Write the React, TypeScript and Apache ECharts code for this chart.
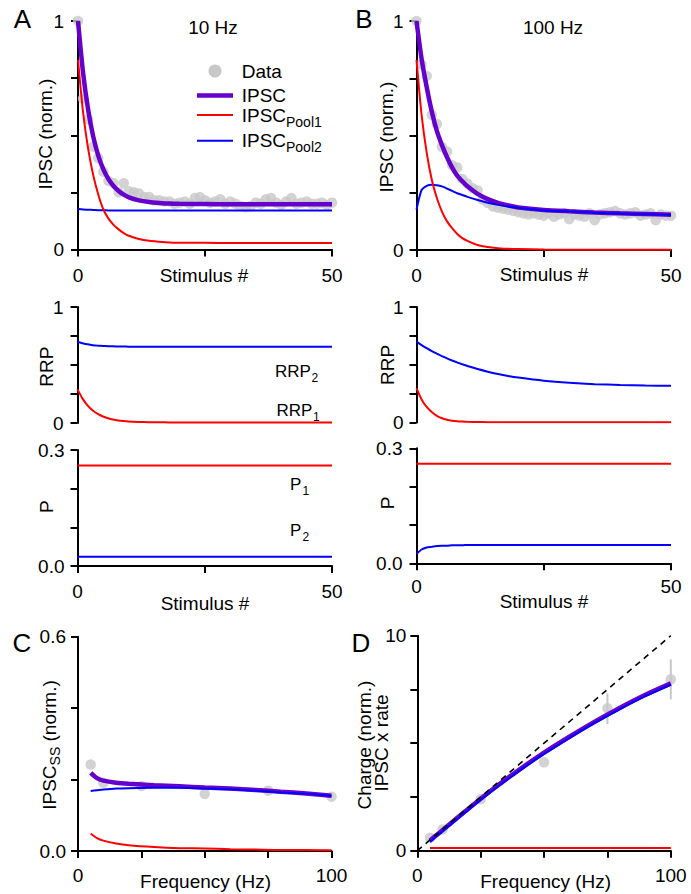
import React, { useEffect, useRef } from "react";
import * as echarts from "echarts";

const FONT = '"Liberation Sans", Arial, sans-serif';
const PURPLE = "#6600cc";
const RED = "#ff0000";
const BLUE = "#0000ff";
const GRAY = "#c8c8c8";

// ---- Panel A / B: stimulus trains ----
const STIM_DATA = [
  0, 1, 2, 3, 4, 5, 6, 7, 8, 9, 10, 11, 12, 13, 14, 15, 16, 17, 18, 19, 20, 21, 22, 23, 24, 25,
  26, 27, 28, 29, 30, 31, 32, 33, 34, 35, 36, 37, 38, 39, 40, 41, 42, 43, 44, 45, 46, 47, 48, 49, 50,
];
const A_DATA = [
  1.0, 0.66, 0.57, 0.45, 0.4, 0.34, 0.3, 0.29, 0.25, 0.29, 0.255, 0.25, 0.245, 0.23, 0.23, 0.215,
  0.215, 0.21, 0.21, 0.2, 0.205, 0.21, 0.2, 0.225, 0.23, 0.215, 0.205, 0.21, 0.22, 0.2, 0.21, 0.2,
  0.19, 0.185, 0.19, 0.205, 0.2, 0.22, 0.225, 0.205, 0.195, 0.21, 0.225, 0.2, 0.205, 0.21, 0.2, 0.2,
  0.205, 0.195, 0.205,
];
const B_DATA = [
  1.0, 0.81, 0.76, 0.59, 0.55, 0.45, 0.43, 0.37, 0.36, 0.31, 0.29, 0.27, 0.26, 0.22, 0.205, 0.19,
  0.185, 0.18, 0.176, 0.17, 0.165, 0.16, 0.155, 0.16, 0.154, 0.15, 0.16, 0.145, 0.155, 0.16, 0.135,
  0.155, 0.15, 0.145, 0.16, 0.13, 0.155, 0.16, 0.165, 0.17, 0.16, 0.155, 0.16, 0.165, 0.15, 0.155,
  0.16, 0.13, 0.155, 0.15, 0.15,
];

const STIM_MODEL = [0, 1, 2, 3, 4, 5, 6, 7, 8, 9, 10, 12, 14, 16, 18, 20, 25, 30, 35, 40, 45, 50];
const A_IPSC = [1.0, 0.773, 0.611, 0.494, 0.41, 0.351, 0.308, 0.278, 0.256, 0.24, 0.228, 0.215, 0.208, 0.204, 0.201, 0.2, 0.199, 0.198, 0.198, 0.198, 0.198, 0.198];
const A_POOL1 = [0.83, 0.6, 0.44, 0.325, 0.24, 0.175, 0.135, 0.108, 0.088, 0.072, 0.06, 0.046, 0.038, 0.034, 0.031, 0.03, 0.029, 0.028, 0.028, 0.028, 0.028, 0.028];
const A_POOL2 = [0.177, 0.175, 0.174, 0.173, 0.172, 0.172, 0.171, 0.171, 0.171, 0.171, 0.171, 0.171, 0.171, 0.171, 0.171, 0.171, 0.171, 0.171, 0.171, 0.171, 0.171, 0.171];
const B_IPSC = [1.0, 0.835, 0.712, 0.605, 0.52, 0.458, 0.405, 0.36, 0.325, 0.3, 0.278, 0.245, 0.222, 0.206, 0.195, 0.186, 0.175, 0.169, 0.164, 0.16, 0.157, 0.154];
const B_POOL1 = [0.83, 0.59, 0.425, 0.307, 0.227, 0.168, 0.125, 0.095, 0.07, 0.052, 0.04, 0.022, 0.013, 0.008, 0.005, 0.004, 0.002, 0.001, 0.001, 0.001, 0.001, 0.001];
const B_POOL2 = [0.176, 0.262, 0.28, 0.285, 0.283, 0.278, 0.268, 0.258, 0.248, 0.24, 0.232, 0.218, 0.206, 0.197, 0.19, 0.184, 0.173, 0.168, 0.163, 0.159, 0.156, 0.153];

const A_RRP2 = [0.7, 0.688, 0.678, 0.671, 0.667, 0.664, 0.662, 0.661, 0.66, 0.659, 0.658, 0.657, 0.657, 0.657, 0.657, 0.657, 0.657, 0.657, 0.657, 0.657, 0.657, 0.657];
const A_RRP1 = [0.29, 0.21, 0.15, 0.108, 0.078, 0.056, 0.041, 0.03, 0.022, 0.017, 0.013, 0.009, 0.007, 0.006, 0.005, 0.005, 0.005, 0.005, 0.005, 0.005, 0.005, 0.005];
const B_RRP2 = [0.7, 0.67, 0.643, 0.618, 0.596, 0.575, 0.555, 0.537, 0.52, 0.504, 0.489, 0.463, 0.44, 0.42, 0.403, 0.389, 0.362, 0.344, 0.332, 0.325, 0.32, 0.318];
const B_RRP1 = [0.298, 0.2, 0.135, 0.09, 0.058, 0.037, 0.024, 0.016, 0.011, 0.008, 0.006, 0.004, 0.003, 0.003, 0.003, 0.003, 0.003, 0.003, 0.003, 0.003, 0.003, 0.003];

const A_P1 = [0.26, 0.26, 0.26, 0.26, 0.26, 0.26, 0.26, 0.26, 0.26, 0.26, 0.26, 0.26, 0.26, 0.26, 0.26, 0.26, 0.26, 0.26, 0.26, 0.26, 0.26, 0.26];
const A_P2 = [0.024, 0.024, 0.024, 0.024, 0.024, 0.024, 0.024, 0.024, 0.024, 0.024, 0.024, 0.024, 0.024, 0.024, 0.024, 0.024, 0.024, 0.024, 0.024, 0.024, 0.024, 0.024];
const B_P1 = [0.26, 0.26, 0.26, 0.26, 0.26, 0.26, 0.26, 0.26, 0.26, 0.26, 0.26, 0.26, 0.26, 0.26, 0.26, 0.26, 0.26, 0.26, 0.26, 0.26, 0.26, 0.26];
const B_P2 = [0.024, 0.036, 0.041, 0.043, 0.045, 0.046, 0.046, 0.047, 0.047, 0.047, 0.048, 0.048, 0.048, 0.048, 0.048, 0.048, 0.048, 0.048, 0.048, 0.048, 0.048, 0.048];

// ---- Panel C / D: frequency dependence ----
const FREQ_DATA = [5, 10, 25, 50, 75, 100];
const C_DATA = [0.242, 0.191, 0.182, 0.16, 0.169, 0.152];
const D_DATA = [0.6, 0.99, 2.39, 4.11, 6.62, 7.97];
const ERR_FREQ = [75, 100];
const ERR_LOW = [5.89, 7.04];
const ERR_HIGH = [7.32, 8.9];

const FREQ_MODEL = [5, 7.5, 10, 15, 20, 30, 40, 50, 60, 70, 80, 90, 100];
const C_IPSC = [0.219, 0.204, 0.197, 0.191, 0.188, 0.184, 0.181, 0.178, 0.175, 0.171, 0.166, 0.161, 0.155];
const C_POOL2 = [0.168, 0.17, 0.172, 0.175, 0.176, 0.177, 0.177, 0.175, 0.173, 0.169, 0.164, 0.16, 0.154];
const C_POOL1 = [0.049, 0.036, 0.029, 0.021, 0.016, 0.011, 0.008, 0.007, 0.005, 0.004, 0.003, 0.003, 0.002];
const D_IPSC = [0.47, 0.72, 0.96, 1.45, 1.94, 2.88, 3.75, 4.56, 5.3, 6.0, 6.65, 7.25, 7.78];
const D_POOL2 = [0.41, 0.66, 0.9, 1.39, 1.88, 2.82, 3.69, 4.5, 5.24, 5.94, 6.59, 7.19, 7.72];
const D_POOL1 = [0.12, 0.12, 0.12, 0.12, 0.12, 0.12, 0.12, 0.12, 0.12, 0.12, 0.12, 0.12, 0.12];
const UNITY_X = [0, 100];
const UNITY_Y = [0, 10];

const zip = (xs: number[], ys: number[]) => xs.map((x, i) => [x, ys[i]]);

const txt = (x: number, y: number, text: string, size = 19, align = "center", extra: any = {}) => ({
  type: "text",
  x,
  y,
  z: 100,
  style: {
    text,
    fontSize: size,
    fontFamily: FONT,
    fill: "#000",
    textAlign: align,
    textVerticalAlign: "middle",
  },
  ...extra,
});

const axisCommon = {
  axisLine: { show: true, onZero: false, lineStyle: { color: "#000", width: 2 } },
  axisTick: { show: true, length: 7, inside: false, lineStyle: { color: "#000", width: 2 } },
  splitLine: { show: false },
};

const mkX = (grid: number, max: number, interval: number, show = true, margin = 16) => ({
  type: "value",
  gridIndex: grid,
  min: 0,
  max,
  interval,
  show,
  ...axisCommon,
  axisLabel: {
    show: true,
    margin,
    fontSize: 19,
    fontFamily: FONT,
    color: "#000",
    showMinLabel: true,
    showMaxLabel: true,
    formatter: (v: number) => (v === 0 || v === max ? String(v) : ""),
  },
});

const mkY = (grid: number, max: number, interval: number, digits: number, margin = 13) => ({
  type: "value",
  gridIndex: grid,
  min: 0,
  max,
  interval,
  ...axisCommon,
  axisLabel: {
    show: true,
    margin,
    fontSize: 19,
    fontFamily: FONT,
    color: "#000",
    showMinLabel: true,
    showMaxLabel: true,
    formatter: (v: number) =>
      Math.abs(v) < 1e-9 || Math.abs(v - max) < 1e-9 ? v.toFixed(digits) : "",
  },
});

const line = (g: number, xs: number[], ys: number[], color: string, width: number, z: number) => ({
  type: "line",
  xAxisIndex: g,
  yAxisIndex: g,
  data: zip(xs, ys),
  symbol: "none",
  smooth: 0.25,
  lineStyle: { color, width },
  z,
  silent: true,
});

const dots = (g: number, xs: number[], ys: number[]) => ({
  type: "scatter",
  xAxisIndex: g,
  yAxisIndex: g,
  data: zip(xs, ys),
  symbol: "circle",
  symbolSize: 10.5,
  itemStyle: { color: GRAY },
  z: 1,
  silent: true,
});

function buildOption(): any {
  const grids = [
    { left: 78, top: 21, width: 254, height: 228.5 }, // 0 A top
    { left: 416.5, top: 21, width: 254.5, height: 229 }, // 1 B top
    { left: 77.5, top: 307, width: 254.5, height: 116 }, // 2 A RRP
    { left: 77.5, top: 450, width: 254.5, height: 116 }, // 3 A P
    { left: 416.5, top: 307, width: 254.5, height: 115.5 }, // 4 B RRP
    { left: 416.5, top: 448.3, width: 254.5, height: 115 }, // 5 B P
    { left: 78, top: 636.7, width: 253.5, height: 214.3 }, // 6 C
    { left: 417.3, top: 635.7, width: 253.5, height: 215 }, // 7 D
  ];

  const xAxis = [
    mkX(0, 50, 25),
    mkX(1, 50, 25),
    mkX(2, 50, 25, false),
    mkX(3, 50, 25),
    mkX(4, 50, 25, false),
    mkX(5, 50, 25, true, 14),
    mkX(6, 100, 25, true, 15),
    mkX(7, 100, 25, true, 15),
  ];
  const yAxis = [
    mkY(0, 1, 0.25, 0, 14),
    mkY(1, 1, 0.25, 0, 13),
    mkY(2, 1, 0.25, 0, 14),
    mkY(3, 0.3, 0.1, 1, 13),
    mkY(4, 1, 0.25, 0, 13),
    mkY(5, 0.3, 0.1, 1, 14),
    mkY(6, 0.6, 0.2, 1, 12),
    mkY(7, 10, 2.5, 0, 11),
  ];

  const series: any[] = [
    dots(0, STIM_DATA, A_DATA),
    line(0, STIM_MODEL, A_IPSC, PURPLE, 4.5, 3),
    line(0, STIM_MODEL, A_POOL2, BLUE, 2, 4),
    line(0, STIM_MODEL, A_POOL1, RED, 2, 5),

    dots(1, STIM_DATA, B_DATA),
    line(1, STIM_MODEL, B_IPSC, PURPLE, 4.5, 3),
    line(1, STIM_MODEL, B_POOL2, BLUE, 2, 4),
    line(1, STIM_MODEL, B_POOL1, RED, 2, 5),

    line(2, STIM_MODEL, A_RRP2, BLUE, 2, 4),
    line(2, STIM_MODEL, A_RRP1, RED, 2, 5),
    line(3, STIM_MODEL, A_P1, RED, 2, 5),
    line(3, STIM_MODEL, A_P2, BLUE, 2, 4),

    line(4, STIM_MODEL, B_RRP2, BLUE, 2, 4),
    line(4, STIM_MODEL, B_RRP1, RED, 2, 5),
    line(5, STIM_MODEL, B_P1, RED, 2, 5),
    line(5, STIM_MODEL, B_P2, BLUE, 2, 4),

    dots(6, FREQ_DATA, C_DATA),
    line(6, FREQ_MODEL, C_IPSC, PURPLE, 4.5, 3),
    line(6, FREQ_MODEL, C_POOL2, BLUE, 2, 4),
    line(6, FREQ_MODEL, C_POOL1, RED, 2, 5),

    {
      type: "custom",
      xAxisIndex: 7,
      yAxisIndex: 7,
      z: 1,
      silent: true,
      data: ERR_FREQ.map((f, i) => [f, ERR_LOW[i], ERR_HIGH[i]]),
      renderItem: (_p: any, api: any) => {
        const a = api.coord([api.value(0), api.value(1)]);
        const b = api.coord([api.value(0), api.value(2)]);
        return {
          type: "line",
          shape: { x1: a[0], y1: a[1], x2: b[0], y2: b[1] },
          style: { stroke: GRAY, lineWidth: 2 },
        };
      },
    },
    dots(7, FREQ_DATA, D_DATA),
    {
      type: "line",
      xAxisIndex: 7,
      yAxisIndex: 7,
      data: zip(UNITY_X, UNITY_Y),
      symbol: "none",
      lineStyle: { color: "#000", width: 1.6, type: [6, 5] },
      z: 6,
      silent: true,
    },
    line(7, FREQ_MODEL, D_IPSC, PURPLE, 4.5, 3),
    line(7, FREQ_MODEL, D_POOL2, BLUE, 2, 4),
    line(7, FREQ_MODEL, D_POOL1, RED, 2, 5),
  ];

  const graphic: any[] = [
    // panel letters
    txt(22.5, 19, "A", 26),
    txt(364, 19, "B", 26),
    txt(22, 643, "C", 26),
    txt(361, 643, "D", 26),
    // titles
    txt(213, 27, "10 Hz"),
    txt(553, 27, "100 Hz"),
    // legend
    { type: "circle", shape: { cx: 215, cy: 71, r: 6.5 }, style: { fill: GRAY }, z: 100 },
    txt(241.7, 71, "Data", 19, "left"),
    { type: "line", shape: { x1: 197, y1: 95.5, x2: 233, y2: 95.5 }, style: { stroke: PURPLE, lineWidth: 4.5 }, z: 100 },
    txt(241.7, 95.5, "IPSC", 19, "left"),
    { type: "line", shape: { x1: 197, y1: 115, x2: 233, y2: 115 }, style: { stroke: RED, lineWidth: 2 }, z: 100 },
    txt(241.7, 115, "IPSC", 19, "left"),
    txt(286, 121.5, "Pool1", 14, "left"),
    { type: "line", shape: { x1: 197, y1: 140.7, x2: 233, y2: 140.7 }, style: { stroke: BLUE, lineWidth: 2 }, z: 100 },
    txt(241.7, 140.7, "IPSC", 19, "left"),
    txt(286, 147.2, "Pool2", 14, "left"),
    // axis names
    txt(45, 134, "IPSC (norm.)", 19, "center", { rotation: Math.PI / 2 }),
    txt(386.7, 137, "IPSC (norm.)", 19, "center", { rotation: Math.PI / 2 }),
    txt(204, 275, "Stimulus #"),
    txt(544, 274, "Stimulus #"),
    txt(46, 366.7, "RRP", 19, "center", { rotation: Math.PI / 2 }),
    txt(46, 506.7, "P", 19, "center", { rotation: Math.PI / 2 }),
    txt(387.5, 365, "RRP", 19, "center", { rotation: Math.PI / 2 }),
    txt(387.5, 503, "P", 19, "center", { rotation: Math.PI / 2 }),
    txt(205, 603, "Stimulus #"),
    txt(544, 601, "Stimulus #"),
    // inline labels
    txt(275, 371.5, "RRP", 17, "left"),
    txt(311.5, 378, "2", 12, "left"),
    txt(276.5, 410, "RRP", 17, "left"),
    txt(313, 416.5, "1", 12, "left"),
    txt(290, 484, "P", 17, "left"),
    txt(302.5, 490.5, "1", 12, "left"),
    txt(290, 530, "P", 17, "left"),
    txt(302.5, 537, "2", 12, "left"),
    // C y-axis name with subscript (rotated group)
    {
      type: "group",
      x: 49,
      y: 745,
      rotation: Math.PI / 2,
      children: [
        txt(-64.75, 0, "IPSC", 19, "left"),
        txt(-20.45, 6, "SS", 14, "left"),
        txt(-1.75, 0, " (norm.)", 19, "left"),
      ],
    },
    txt(205.5, 881, "Frequency (Hz)"),
    // D y-axis names
    txt(364, 745, "Charge (norm.)", 19, "center", { rotation: Math.PI / 2 }),
    txt(381.7, 743, "IPSC x rate", 19, "center", { rotation: Math.PI / 2 }),
    txt(545.7, 881, "Frequency (Hz)"),
  ];

  return {
    animation: false,
    backgroundColor: "#ffffff",
    textStyle: { fontFamily: FONT },
    grid: grids,
    xAxis,
    yAxis,
    series,
    graphic,
  };
}

export default function App() {
  const ref = useRef<HTMLDivElement>(null);
  useEffect(() => {
    if (!ref.current) return;
    const chart = echarts.init(ref.current, undefined, { renderer: "svg" });
    chart.setOption(buildOption());
    return () => chart.dispose();
  }, []);
  return (
    <div
      ref={ref}
      style={{ position: "fixed", left: 0, top: 0, width: 691, height: 894, background: "#fff" }}
    />
  );
}
